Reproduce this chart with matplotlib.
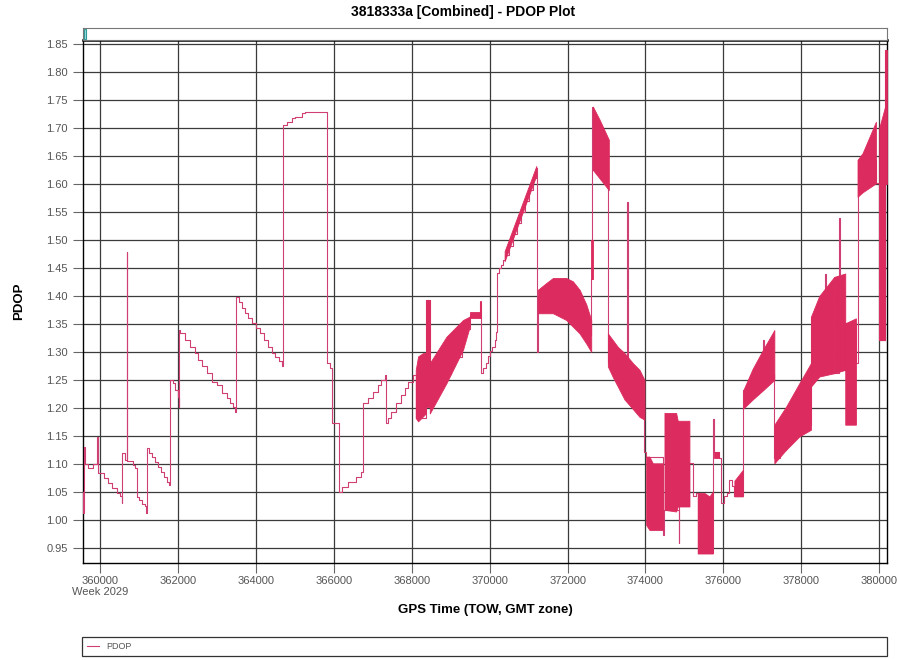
import matplotlib.pyplot as plt
from matplotlib.patches import Rectangle

plt.rcParams['font.family'] = ['Liberation Sans', 'DejaVu Sans']

LINE = '#CF3F74'
BAND = '#DC2B5E'
GRID = '#3a3a3a'
TICK = '#555555'

# -------------------------
# Thin PDOP trace (step, post), TOW seconds / PDOP
# -------------------------
thin_t = [
    359560, 359572, 359590, 359615, 359700, 359829, 359931, 359950,
    360100, 360200, 360300, 360427, 360500, 360556, 360573, 360641,
    360684, 360700, 360855, 360900, 360940, 361000, 361080, 361154,
    361180, 361197, 361260, 361330, 361400, 361480, 361560, 361640,
    361720, 361778, 361795, 361870, 361930, 361990, 362020,
    362034, 362051, 362179, 362308, 362436, 362521, 362607, 362735,
    362863, 362991, 363120, 363248, 363333, 363418, 363461,
    363487, 363560, 363640, 363720, 363800, 363900, 364000, 364100,
    364200, 364300, 364400, 364500, 364580, 364659,
    364701, 364786, 364915, 365000, 365171, 365256,
    365829, 365900, 365940, 366137, 366197, 366368, 366581, 366709,
    366752, 366880, 367008, 367137, 367222, 367307,
    367350, 367393, 367478, 367607, 367735, 367820, 367905, 368034,
    368102, 368359, 368462, 368600, 368800, 369000, 369300, 369487,
    369743,
    369786, 369829, 369897, 369957, 370000, 370068, 370128, 370171,
    370197, 370250, 370299, 370340, 370384, 370500, 370600, 370700,
    370800, 370900, 371000, 371100, 371197, 371222,
    371239, 371900, 372300, 372450, 372590, 372632, 372650,
    373034, 373050, 373529, 373547, 373974, 374017, 374444,
    374487, 374855, 374870, 375128, 375213, 375299, 375341,
    375726, 375769, 375897, 375940, 376026, 376100, 376154, 376220,
    376282, 376513, 377026, 377040, 377308, 377450, 377600, 377750,
    377900, 378100,
    378248, 378615, 378630, 378974, 378990, 379128, 379402, 379444,
    379915, 380000, 380154, 380200,
]
thin_v = [
    1.050, 1.012, 1.130, 1.100, 1.093, 1.100, 1.148, 1.084,
    1.074, 1.066, 1.057, 1.048, 1.042, 1.030, 1.120, 1.107,
    1.479, 1.105, 1.098, 1.093, 1.041, 1.035, 1.029, 1.024,
    1.012, 1.129, 1.120, 1.112, 1.103, 1.094, 1.085, 1.077,
    1.068, 1.062, 1.250, 1.244, 1.232, 1.220, 1.202,
    1.339, 1.333, 1.321, 1.309, 1.298, 1.286, 1.274, 1.262,
    1.247, 1.241, 1.226, 1.217, 1.208, 1.202, 1.193,
    1.398, 1.389, 1.378, 1.369, 1.360, 1.351, 1.342, 1.333,
    1.321, 1.309, 1.298, 1.290, 1.283, 1.274,
    1.705, 1.711, 1.717, 1.720, 1.726, 1.729,
    1.280, 1.271, 1.173, 1.050, 1.059, 1.068, 1.077, 1.086,
    1.208, 1.217, 1.229, 1.241, 1.250, 1.259,
    1.173, 1.182, 1.193, 1.208, 1.223, 1.235, 1.247, 1.259,
    1.182, 1.393, 1.215, 1.235, 1.260, 1.290, 1.340, 1.365,
    1.390,
    1.262, 1.271, 1.280, 1.292, 1.301, 1.309, 1.321, 1.336,
    1.441, 1.449, 1.455, 1.464, 1.473, 1.490, 1.510, 1.530,
    1.550, 1.570, 1.590, 1.610, 1.628, 1.300,
    1.400, 1.380, 1.340, 1.330, 1.430, 1.738, 1.625,
    1.589, 1.280, 1.568, 1.208, 1.122, 1.113, 0.973,
    1.018, 0.958, 1.024, 1.101, 1.042, 1.048, 0.940,
    1.181, 1.122, 1.110, 1.030, 1.042, 1.048, 1.071, 1.060,
    1.042, 1.232, 1.321, 1.260, 1.110, 1.125, 1.140, 1.150,
    1.160, 1.170,
    1.363, 1.440, 1.262, 1.539, 1.268, 1.351, 1.280, 1.643,
    1.601, 1.321, 1.839, 1.839,
]

# -------------------------
# Dense oscillation bands (envelope of the fast-switching trace)
# -------------------------
band_id = [
    0, 0, 0, 0,
    1, 1,
    2, 2, 2, 2,
    3, 3,
    4, 4,
    5, 5,
    6, 6, 6, 6, 6, 6, 6, 6, 6,
    7, 7,
    8, 8, 8,
    9, 9, 9, 9, 9, 9, 9,
    10, 10, 10, 10,
    11, 11, 11, 11,
    12, 12, 12, 12,
    13, 13,
    14, 14,
    15, 15, 15, 15,
    16, 16, 16, 16,
    17, 17, 17,
    18, 18,
    19, 19,
    20, 20, 20,
    21, 21,
    22, 22,
]
band_t = [
    368102, 368162, 368290, 368359,
    368359, 368462,
    368462, 368889, 369316, 369487,
    369487, 369743,
    369743, 369786,
    370384, 371197,
    371239, 371453, 371624, 371795, 371966, 372137, 372308, 372479, 372607,
    372590, 372650,
    372650, 372820, 373059,
    373034, 373162, 373290, 373461, 373675, 373846, 373974,
    374017, 374102, 374187, 374444,
    374487, 374786, 374829, 375128,
    375341, 375513, 375641, 375726,
    375769, 375897,
    376282, 376496,
    376513, 376752, 377026, 377308,
    377308, 377607, 377949, 378248,
    378248, 378462, 378846,
    378846, 379128,
    379128, 379402,
    379444, 379573, 379915,
    380000, 380150,
    380150, 380200,
]
band_lo = [
    1.182, 1.176, 1.185, 1.190,
    1.202, 1.202,
    1.190, 1.244, 1.304, 1.345,
    1.360, 1.360,
    1.360, 1.360,
    1.462, 1.615,
    1.369, 1.369, 1.369, 1.363, 1.357, 1.345, 1.333, 1.315, 1.300,
    1.430, 1.430,
    1.625, 1.610, 1.589,
    1.274, 1.255, 1.238, 1.215, 1.198, 1.184, 1.179,
    0.991, 0.982, 0.982, 0.982,
    1.018, 1.015, 1.024, 1.024,
    0.940, 0.940, 0.940, 0.940,
    1.110, 1.110,
    1.042, 1.042,
    1.199, 1.215, 1.232, 1.250,
    1.101, 1.125, 1.149, 1.161,
    1.238, 1.256, 1.262,
    1.262, 1.268,
    1.170, 1.170,
    1.577, 1.585, 1.601,
    1.321, 1.321,
    1.600, 1.600,
]
band_hi = [
    1.268, 1.292, 1.298, 1.298,
    1.393, 1.393,
    1.280, 1.327, 1.357, 1.363,
    1.372, 1.372,
    1.390, 1.390,
    1.480, 1.632,
    1.411, 1.423, 1.432, 1.432, 1.432, 1.426, 1.411, 1.385, 1.357,
    1.500, 1.500,
    1.738, 1.715, 1.679,
    1.333, 1.321, 1.309, 1.298, 1.280, 1.268, 1.250,
    1.113, 1.113, 1.101, 1.101,
    1.191, 1.191, 1.177, 1.177,
    1.048, 1.048, 1.042, 1.050,
    1.122, 1.122,
    1.070, 1.089,
    1.232, 1.270, 1.305, 1.339,
    1.170, 1.202, 1.244, 1.280,
    1.363, 1.400, 1.434,
    1.434, 1.440,
    1.351, 1.360,
    1.643, 1.655, 1.711,
    1.700, 1.738,
    1.839, 1.839,
]

y_ticks = [0.95, 1.00, 1.05, 1.10, 1.15, 1.20, 1.25, 1.30, 1.35, 1.40,
           1.45, 1.50, 1.55, 1.60, 1.65, 1.70, 1.75, 1.80, 1.85]
x_ticks = [360000, 362000, 364000, 366000, 368000, 370000,
           372000, 374000, 376000, 378000, 380000]
x_labels = ['360000\nWeek 2029'] + [str(v) for v in x_ticks[1:]]

# -------------------------
# Figure
# -------------------------
fig = plt.figure(figsize=(9, 6.6), dpi=100)
ax = fig.add_axes([83 / 900, 1 - 563 / 660, 804 / 900, 523 / 660])

line, = ax.step(thin_t, thin_v, where='post', color=LINE, lw=0.8, zorder=3)

for s in sorted(set(band_id)):
    idx = [i for i, b in enumerate(band_id) if b == s]
    ax.fill_between([band_t[i] for i in idx],
                    [band_lo[i] for i in idx],
                    [band_hi[i] for i in idx],
                    color=BAND, lw=0.6, zorder=4)

ax.set_xlim(359560, 380200)
ax.set_ylim(0.923, 1.857)
ax.set_yticks(y_ticks)
ax.set_yticklabels([f'{v:.2f}' for v in y_ticks])
ax.set_xticks(x_ticks)
ax.set_xticklabels(x_labels)
ax.tick_params(direction='out', length=7, width=0.8, color='#666666',
               labelcolor=TICK, labelsize=8)
ax.tick_params(axis='y', pad=4)
ax.tick_params(axis='x', pad=2)
ax.grid(True, color=GRID, lw=0.9)
ax.set_axisbelow(True)
for sp in ax.spines.values():
    sp.set_color('black')
    sp.set_linewidth(1.0)
ax.spines['top'].set_linewidth(1.8)

ax.set_ylabel('PDOP', fontsize=9.5, fontweight='bold', labelpad=15)
ax.set_xlabel('GPS Time (TOW, GMT zone)', fontsize=9.5, fontweight='bold',
              labelpad=5)
fig.text(463 / 900, 1 - 12 / 660, '3818333a [Combined] - PDOP Plot',
         ha='center', va='center', fontsize=10, fontweight='bold')

# scroll strip above the plot
sax = fig.add_axes([83 / 900, 1 - 40 / 660, 804 / 900, 12 / 660])
sax.set_xticks([])
sax.set_yticks([])
for sp in sax.spines.values():
    sp.set_color('#777777')
    sp.set_linewidth(0.8)
sax.add_patch(Rectangle((0.001, 0.08), 0.0025, 0.84, transform=sax.transAxes,
                        facecolor='#9fe0e0', edgecolor='#2f9a9a', lw=0.8))

leg = fig.legend(handles=[line], labels=['PDOP'], loc='lower left',
                 bbox_to_anchor=(82 / 900, 1 - 656 / 660, 805 / 900, 20 / 660),
                 mode='expand', frameon=True, fancybox=False,
                 edgecolor='black', fontsize=6.5, handlelength=1.3,
                 borderpad=0.55, borderaxespad=0, labelcolor=TICK)
leg.get_frame().set_linewidth(0.9)

fig.savefig('out.png', dpi=100)
